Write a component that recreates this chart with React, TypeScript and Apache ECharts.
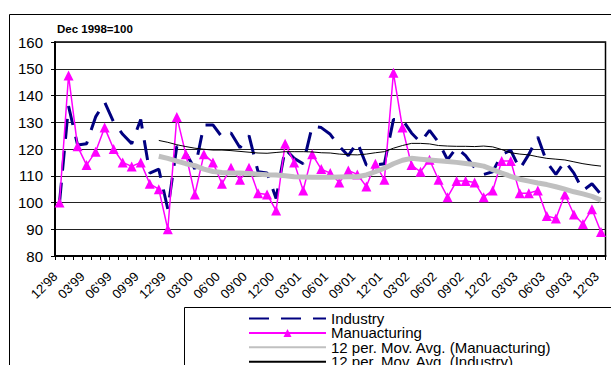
import React, { useEffect, useRef } from "react";
import * as echarts from "echarts";

// Month labels, Dec 1998 .. Dec 2003 (MM'YY)
const months: string[] = (() => {
  const out: string[] = [];
  let y = 1998;
  let m = 12;
  for (let k = 0; k < 61; k++) {
    out.push(String(m).padStart(2, "0") + "'" + String(y % 100).padStart(2, "0"));
    m += 1;
    if (m > 12) { m = 1; y += 1; }
  }
  return out;
})();

const industry: number[] = [
  100, 136, 121.5, 122, 132, 137.5, 130, 125.5, 122, 131, 111, 112.5,
  97.5, 121, 118.5, 112.5, 129, 129, 124.5, 126, 120.5, 125, 111.5, 111,
  101.5, 120, 116.5, 114.5, 128.5, 128, 125.5, 121, 117.5, 122.5, 114, 114,
  114.5, 131, 131, 126, 122.5, 127, 122.5, 116, 120.5, 117.5, 113, 110.5,
  111.5, 118, 119.5, 112.5, 118, 124.5, 115, 110.5, 115.5, 111, 104.5, 107,
  103,
];

const manufacturing: number[] = [
  100, 147.5, 121, 114, 119, 128, 120, 115, 113.5, 115, 107, 105,
  90, 132, 118, 103, 118, 115, 107, 113, 108.5, 113, 103.5, 103,
  97, 122, 115, 104.5, 118, 112.5, 111, 107.5, 112, 110.5, 106, 114.5,
  108.5, 148.5, 128, 114, 111.5, 116, 108.5, 102, 108, 108, 107.5, 102,
  104.5, 115.5, 115.5, 103.5, 103.5, 104.5, 95, 94, 103, 95.5, 92, 97.5,
  89,
];

// 12-period moving averages (first 11 months have no value)
const maManufacturing: (number | null)[] = [
  null, null, null, null, null, null, null, null, null, null, null,
  117.3, 116.5, 115.5, 114.5, 113.8, 112.5, 111.6, 111.2, 111.0, 111.0,
  110.8, 110.6, 110.4, 110.3, 110.0, 109.6, 109.5, 109.4, 109.4, 109.4,
  109.5, 109.6, 109.6, 110.3, 111.5, 112.8, 114.5, 115.8, 116.5, 116.2,
  115.9, 115.6, 115.3, 115.0, 114.6, 114.2, 113.6, 112.3, 111.0, 109.8,
  108.7, 108.0, 107.3, 106.7, 105.9, 105.0, 104.0, 103.2, 102.3, 100.9,
];

const maIndustry: (number | null)[] = [
  null, null, null, null, null, null, null, null, null, null, null,
  123.2, 122.5, 121.6, 120.9, 120.3, 119.9, 119.6, 119.6, 119.4, 119.1,
  118.8, 118.5, 118.4, 118.7, 119.0, 119.0, 119.0, 118.9, 118.6, 118.5,
  118.1, 117.9, 117.8, 118.1, 118.6, 119.0, 120.3, 121.3, 122.1, 122.1,
  121.9, 121.3, 121.1, 121.0, 121.0, 120.9, 121.1, 120.8, 119.8, 118.6,
  118.1, 117.8, 117.1, 116.5, 116.2, 115.9, 115.2, 114.5, 114.0, 113.6,
];

const legendNames = [
  "Industry",
  "Manuacturing",
  "12 per. Mov. Avg. (Manuacturing)",
  "12 per. Mov. Avg. (Industry)",
];

const FONT = 'Arial, "Liberation Sans", sans-serif';

// One legend block per row so the list never wraps into a second column
const legendRows = legendNames.map((name, k) => ({
  data: [
    name === "Manuacturing"
      ? { name }
      : { name, itemStyle: { opacity: 0 } },
  ],
  orient: "vertical",
  left: 248,
  top: 311 + k * 14.4,
  padding: 0,
  itemWidth: 77,
  itemHeight: 10,
  selectedMode: false,
  z: 5,
  textStyle: { fontFamily: FONT, fontSize: 15, color: "#000", lineHeight: 14 },
}));

export default function App() {
  const ref = useRef<HTMLDivElement>(null);

  useEffect(() => {
    if (!ref.current) return;
    const chart = echarts.init(ref.current, undefined, { renderer: "svg" });
    chart.setOption({
      animation: false,
      backgroundColor: "#fff",
      title: {
        text: "Dec 1998=100",
        left: 57,
        top: 23,
        padding: 0,
        textStyle: { fontFamily: FONT, fontSize: 11.5, fontWeight: "bold", color: "#000", lineHeight: 12 },
      },
      graphic: [
        {
          type: "rect",
          shape: { x: 9.5, y: 14.5, width: 700, height: 500 },
          style: { fill: "none", stroke: "#000", lineWidth: 1 },
          silent: true,
        },
        {
          type: "rect",
          shape: { x: 184.5, y: 307.5, width: 500, height: 100 },
          style: { fill: "#fff", stroke: "#000", lineWidth: 1 },
          silent: true,
          z: 1,
        },
      ],
      legend: legendRows,
      grid: {
        left: 55,
        top: 42,
        right: 5.5,
        bottom: 109,
        show: true,
        borderColor: "#000",
        borderWidth: 1.5,
        containLabel: false,
      },
      xAxis: {
        type: "category",
        data: months,
        boundaryGap: true,
        axisLine: { lineStyle: { color: "#000", width: 2 } },
        axisTick: { show: true, interval: 0, length: 4, lineStyle: { color: "#000", width: 1 } },
        axisLabel: {
          interval: 2,
          rotate: 45,
          margin: 14,
          padding: [0, 6, 0, 0],
          fontFamily: FONT,
          fontSize: 13,
          color: "#000",
        },
        splitLine: { show: false },
      },
      yAxis: {
        type: "value",
        min: 80,
        max: 160,
        interval: 10,
        axisLine: { show: true, lineStyle: { color: "#000", width: 2 } },
        axisTick: { show: true, length: 4, lineStyle: { color: "#000", width: 1 } },
        axisLabel: { fontFamily: FONT, fontSize: 15, color: "#000", margin: 12 },
        splitLine: { show: true, lineStyle: { color: "#222", width: 1 } },
      },
      series: [
        {
          name: "Industry",
          type: "line",
          data: industry,
          symbol: "none",
          lineStyle: { color: "#000080", width: 3, type: [20, 12], cap: "butt" },
          itemStyle: { color: "#000080" },
          z: 2,
        },
        {
          name: "Manuacturing",
          type: "line",
          data: manufacturing,
          symbol: "triangle",
          symbolSize: 10,
          showAllSymbol: true,
          lineStyle: { color: "#FF00FF", width: 1.5 },
          itemStyle: { color: "#FF00FF" },
          z: 3,
        },
        {
          name: "12 per. Mov. Avg. (Manuacturing)",
          type: "line",
          data: maManufacturing,
          symbol: "none",
          lineStyle: { color: "#C0C0C0", width: 5 },
          itemStyle: { color: "#C0C0C0" },
          z: 4,
        },
        {
          name: "12 per. Mov. Avg. (Industry)",
          type: "line",
          data: maIndustry,
          symbol: "none",
          lineStyle: { color: "#000", width: 1 },
          itemStyle: { color: "#000" },
          z: 4,
        },
      ],
    });
    return () => chart.dispose();
  }, []);

  return (
    <div
      ref={ref}
      style={{ position: "fixed", left: 0, top: 0, width: 611, height: 365 }}
    />
  );
}
